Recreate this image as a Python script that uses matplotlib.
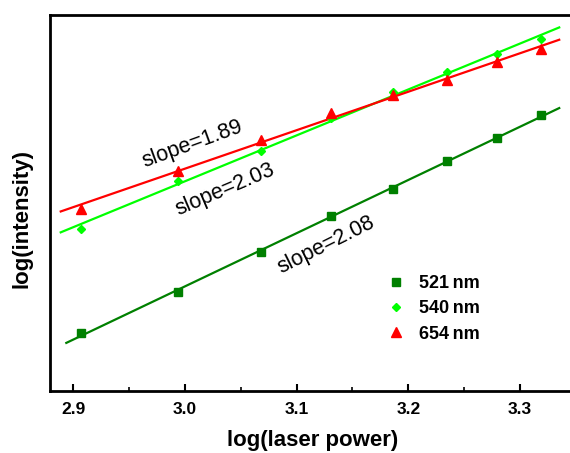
import numpy as np
import matplotlib
matplotlib.use('Agg')
import matplotlib.pyplot as plt
from matplotlib.ticker import MultipleLocator

plt.rcParams['font.family'] = ['Liberation Sans', 'DejaVu Sans']

# log(laser power) values of the measured points
power = [2.907, 2.994, 3.068, 3.131, 3.186, 3.235, 3.279, 3.319]
# log(intensity), arbitrary offset
i521 = [2.23, 2.39, 2.55, 2.69, 2.80, 2.91, 3.00, 3.09]
i540 = [2.64, 2.83, 2.95, 3.08, 3.18, 3.26, 3.33, 3.39]
i654 = [2.72, 2.87, 2.99, 3.10, 3.17, 3.23, 3.30, 3.35]
labels = ['521\u2009nm', '540\u2009nm', '654\u2009nm']
slopes = ['slope=2.08', 'slope=2.03', 'slope=1.89']

fig = plt.figure(figsize=(5.7, 4.53), dpi=100)
ax = fig.add_axes([0.0877, 0.1369, 0.9228, 0.830])

x = np.array(power)
fit_x = {'521': np.array([2.894, 3.335]), '540': np.array([2.889, 3.335]), '654': np.array([2.889, 3.335])}

series = [('521', i521, 'green', 's', 5.5), ('540', i540, '#00ff00', 'D', 4.5), ('654', i654, 'red', '^', 7.5)]
for (key, y, c, m, ms), lab in zip(series, labels):
    p = np.polyfit(x, y, 1)
    fx = fit_x[key]
    ax.plot(fx, np.polyval(p, fx), color=c, lw=1.6, zorder=2)
    ax.plot(x, y, ls='none', marker=m, color=c, ms=ms, label=lab, zorder=3)

ax.text(3.0065, 2.975, slopes[2], rotation=20, fontsize=15.5, ha='center', va='center')
ax.text(3.036, 2.794, slopes[1], rotation=23, fontsize=15.5, ha='center', va='center')
ax.text(3.1265, 2.577, slopes[0], rotation=26.5, fontsize=15.5, ha='center', va='center')

ax.set_xlim(2.8794, 3.35)
ax.set_ylim(2.0, 3.486)
ax.xaxis.set_major_locator(MultipleLocator(0.1))
ax.xaxis.set_minor_locator(MultipleLocator(0.05))
ax.tick_params(axis='x', which='major', direction='in', length=5, width=1.5, labelsize=12.5, pad=8)
ax.tick_params(axis='x', which='minor', direction='in', length=3, width=1.2)
ax.set_yticks([])
for lbl in ax.get_xticklabels():
    lbl.set_fontweight('bold')
for s in ax.spines.values():
    s.set_linewidth(2)

ax.set_xlabel('log(laser power)', fontsize=16, fontweight='bold', labelpad=9)
ax.set_ylabel('log(intensity)', fontsize=16, fontweight='bold')
ax.yaxis.set_label_coords(-0.034, 0.46)

leg = ax.legend(loc='upper left', bbox_to_anchor=(0.609, 0.351), frameon=False,
                prop={'weight': 'bold', 'size': 13}, handletextpad=0.8,
                labelspacing=0.45, handlelength=1.0)

plt.savefig('out.png', dpi=100)
